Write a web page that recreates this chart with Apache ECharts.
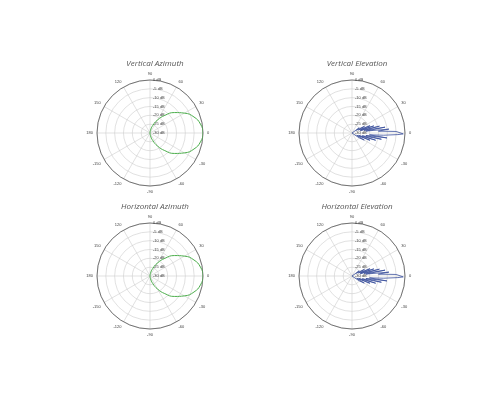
<!DOCTYPE html>
<html><head><meta charset="utf-8">
<script src="https://cdn.jsdelivr.net/npm/echarts@6/dist/echarts.min.js"></script>
<style>html,body{margin:0;background:#fff}#c{width:500px;height:400px}</style>
</head><body><div id="c"></div>
<script>
// chart titles
var titles = ['Vertical Azimuth', 'Vertical Elevation', 'Horizontal Azimuth', 'Horizontal Elevation'];
var centers = [[150, 133], [352, 133], [150, 276], [352, 276]];

// azimuth pattern: angle (deg) / gain (dB)
var azAngles = [-90, -80, -70, -60, -50, -40, -30, -20, -10, 0, 10, 20, 30, 40, 50, 60, 70, 80, 90];
var azGain = [-30, -28.5, -25.5, -21.5, -17, -12, -7.5, -3.5, -1, 0, -1, -3.5, -7.5, -12, -17, -21.5, -25.5, -28.5, -30];

// elevation pattern: spiky lobes
var elAngles = [-40, -34, -30, -26, -22, -20, -17, -15, -12, -10, -8, -6, -4, -2, -1, 0, 1, 2, 4, 6, 8, 10, 12, 14, 16, 18, 20, 22, 25, 28, 32, 36, 40];
var elGain = [-30, -25, -22, -27, -19, -26, -16, -24, -13, -22, -10, -20, -12, -4, -1, 0, -1, -5, -15, -9, -22, -11, -23, -14, -25, -17, -25, -19, -26, -22, -27, -25, -30];

function toAxis(a) { return ((a - 90) % 360 + 360) % 360; }
function pairs(angles, gains) {
  return angles.map(function (a, i) { return [gains[i], toAxis(a)]; });
}

var polar = [], angleAxis = [], radiusAxis = [], series = [], title = [];
centers.forEach(function (c, i) {
  polar.push({ center: [c[0], c[1]], radius: 53 });
  angleAxis.push({
    polarIndex: i, type: 'value', min: 0, max: 360, interval: 30, startAngle: 90, clockwise: false,
    axisLine: { lineStyle: { color: '#555', width: 0.8 } },
    axisTick: { show: false },
    splitLine: { lineStyle: { color: '#ccc', width: 0.6 } },
    axisLabel: {
      fontSize: 4, color: '#444', margin: 4,
      formatter: function (v) {
        if (v === 360) return '';
        var t = v + 90; if (t > 180) t -= 360;
        return String(t);
      }
    }
  });
  radiusAxis.push({
    polarIndex: i, type: 'value', min: -30, max: 0, interval: 5,
    axisLine: { show: false }, axisTick: { show: false },
    splitLine: { lineStyle: { color: '#ccc', width: 0.6 } },
    axisLabel: { fontSize: 4, color: '#444', formatter: '{value} dB', align: 'left', margin: -3 }
  });
  title.push({
    text: titles[i], left: c[0], top: c[1] - 78, textAlign: 'center',
    textStyle: { fontSize: 8, fontStyle: 'italic', fontWeight: 'normal', color: '#555', fontFamily: 'Open Sans' }
  });
  var az = i % 2 === 0;
  series.push({
    type: 'line', coordinateSystem: 'polar', polarIndex: i, symbol: 'none',
    data: az ? pairs(azAngles, azGain) : pairs(elAngles, elGain),
    smooth: az,
    lineStyle: { color: az ? '#4cae4c' : '#3a4f9c', width: az ? 1 : 0.8 }
  });
});

var chart = echarts.init(document.getElementById('c'));
chart.setOption({
  animation: false,
  title: title, polar: polar, angleAxis: angleAxis, radiusAxis: radiusAxis, series: series
});
</script></body></html>
